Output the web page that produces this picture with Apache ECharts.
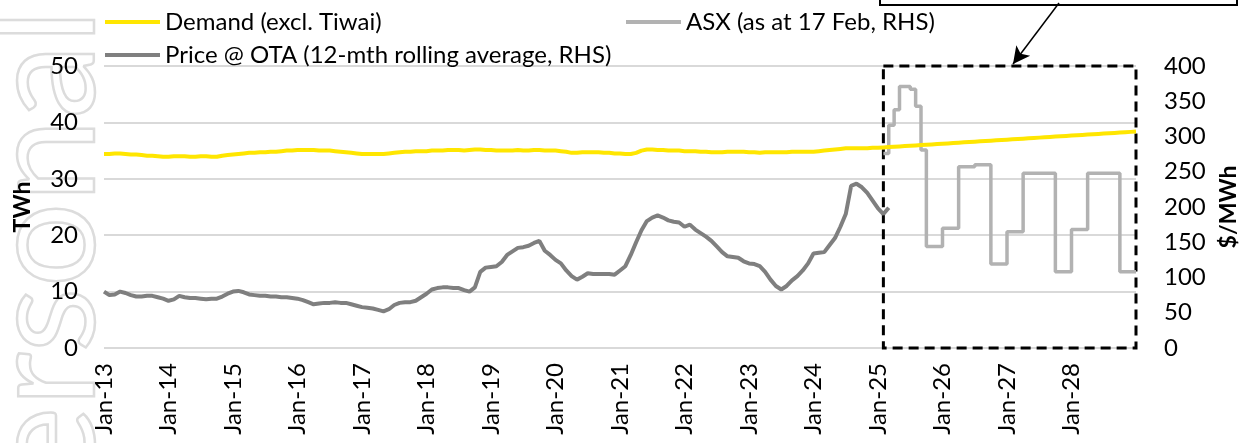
<!DOCTYPE html>
<html>
<head>
<meta charset="utf-8">
<script src="https://cdn.jsdelivr.net/npm/echarts@6/dist/echarts.min.js"></script>
<style>
  html, body { margin: 0; padding: 0; background: #fff; }
  #myChart { width: 1241px; height: 443px; }
</style>
</head>
<body>
<div id="myChart"></div>
<script>
// months Jan-13 .. Jan-29
var monthNames = ['Jan','Feb','Mar','Apr','May','Jun','Jul','Aug','Sep','Oct','Nov','Dec']
var months = []
for (var y = 13; y <= 29; y++) {
  for (var m = 0; m < 12; m++) {
    if (y === 29 && m > 0) break
    months.push(monthNames[m] + '-' + y)
  }
}

// Demand (excl. Tiwai), TWh, monthly from Jan-13
var demand = [
  34.4, 34.4, 34.5, 34.5, 34.4, 34.3, 34.3, 34.2, 34.1, 34.1, 34.0, 33.9,
  33.9, 34.0, 34.0, 34.0, 33.9, 33.9, 34.0, 34.0, 33.9, 33.9, 34.1, 34.2,
  34.3, 34.4, 34.5, 34.6, 34.6, 34.7, 34.7, 34.8, 34.8, 34.9, 35.0, 35.0,
  35.1, 35.1, 35.1, 35.1, 35.0, 35.0, 35.0, 34.9, 34.8, 34.7, 34.6, 34.5,
  34.4, 34.4, 34.4, 34.4, 34.4, 34.5, 34.6, 34.7, 34.8, 34.8, 34.9, 34.9,
  34.9, 35.0, 35.0, 35.0, 35.1, 35.1, 35.1, 35.0, 35.1, 35.2, 35.2, 35.1,
  35.1, 35.0, 35.0, 35.0, 35.0, 35.1, 35.0, 35.0, 35.1, 35.1, 35.0, 35.0,
  35.0, 34.9, 34.8, 34.6, 34.6, 34.7, 34.7, 34.7, 34.7, 34.6, 34.6, 34.5,
  34.5, 34.4, 34.4, 34.6, 35.0, 35.2, 35.2, 35.1, 35.1, 35.0, 35.0, 35.0,
  34.9, 34.9, 34.9, 34.8, 34.8, 34.7, 34.7, 34.7, 34.8, 34.8, 34.8, 34.8,
  34.7, 34.7, 34.6, 34.7, 34.7, 34.7, 34.7, 34.7, 34.8, 34.8, 34.8, 34.8,
  34.8, 34.9, 35.0, 35.1, 35.2, 35.3, 35.4, 35.4, 35.4, 35.4, 35.4, 35.5,
  35.50, 35.56, 35.62, 35.68, 35.74, 35.80, 35.86, 35.92, 35.98, 36.04, 36.10, 36.16,
  36.22, 36.28, 36.34, 36.40, 36.46, 36.52, 36.58, 36.64, 36.70, 36.76, 36.82, 36.88,
  36.94, 37.00, 37.06, 37.12, 37.18, 37.24, 37.30, 37.36, 37.42, 37.48, 37.54, 37.60,
  37.66, 37.72, 37.78, 37.84, 37.90, 37.96, 38.02, 38.08, 38.14, 38.20, 38.26, 38.32,
  38.38
]

// Price @ OTA, 12-mth rolling average, $/MWh, monthly from Jan-13
var price = [
  80, 75, 76, 80, 78, 75, 73, 73, 74, 74, 72, 70,
  67, 69, 74, 72, 71, 71, 70, 69, 70, 70, 73, 77,
  80, 81, 79, 76, 75, 74, 74, 73, 73, 72, 72, 71,
  70, 68, 65, 62, 63, 64, 64, 65, 64, 64, 62, 60,
  58, 57, 56, 54, 52, 55, 61, 64, 65, 65, 67, 72,
  77, 83, 85, 86, 86, 85, 85, 82, 80, 86, 108, 114,
  115, 116, 122, 132, 137, 142, 143, 145, 149, 152, 138, 132,
  125, 120, 110, 102, 97, 101, 106, 105, 105, 105, 105, 104,
  110, 116, 132, 150, 167, 180, 185, 188, 185, 181, 179, 178,
  172, 175, 168, 163, 158, 152, 144, 136, 130, 129, 128, 123,
  120, 119, 116, 108, 97, 88, 83, 88, 96, 102, 110, 120,
  134, 135, 136, 146, 156, 172, 190, 230, 233, 228, 220, 209,
  198, 190, 199
]

// ASX futures (as at 17 Feb), $/MWh, monthly from Feb-25 to Jan-29
var asxStart = 'Feb-25'
var asx = [
  276, 316, 338, 371, 371, 367, 343, 281,
  144, 144, 144,
  170, 170, 170, 257, 257, 257, 260, 260, 260, 119, 119, 119,
  165, 165, 165, 248, 248, 248, 248, 248, 248, 108, 108, 108,
  168, 168, 168, 248, 248, 248, 248, 248, 248, 108, 108, 108,
  108
]

var FONT = 'Lato'
var asxOffset = months.indexOf(asxStart)
var asxData = asx.map(function (v, k) { return [months[asxOffset + k], v] })

var myChart = echarts.init(document.getElementById('myChart'))

var legendCommon = {
  icon: 'rect',
  itemWidth: 55,
  itemHeight: 4,
  textStyle: { fontFamily: FONT, fontSize: 24, color: '#000' }
}

myChart.setOption({
  animation: false,
  grid: { left: 104, right: 105, top: 66, bottom: 95, outerBoundsMode: 'none' },
  legend: [
    Object.assign({ left: 100, top: 5, data: ['Demand (excl. Tiwai)'] }, legendCommon),
    Object.assign({ left: 621, top: 5, data: ['ASX (as at 17 Feb, RHS)'] }, legendCommon),
    Object.assign({ left: 100, top: 38, data: ['Price @ OTA (12-mth rolling average, RHS)'] }, legendCommon)
  ],
  xAxis: {
    type: 'category',
    data: months,
    boundaryGap: false,
    axisLine: { show: false },
    axisTick: { show: false },
    axisLabel: {
      rotate: 90,
      margin: 15,
      fontFamily: FONT,
      fontSize: 24,
      color: '#000',
      interval: function (i) { return i % 12 === 0 && i < months.length - 1 }
    }
  },
  yAxis: [{
    type: 'value',
    min: 0, max: 50, interval: 10,
    name: 'TWh',
    nameLocation: 'middle',
    nameRotate: 90,
    nameGap: 70,
    nameTextStyle: { fontFamily: FONT, fontSize: 23, fontWeight: 'bold', color: '#000' },
    axisLine: { show: false },
    axisTick: { show: false },
    axisLabel: { margin: 26, fontFamily: FONT, fontSize: 24, color: '#000' },
    splitLine: { lineStyle: { color: '#d9d9d9', width: 2 } }
  }, {
    type: 'value',
    min: 0, max: 400, interval: 50,
    name: '$/MWh',
    nameLocation: 'middle',
    nameRotate: 90,
    nameGap: 81,
    nameTextStyle: { fontFamily: FONT, fontSize: 23, fontWeight: 'bold', color: '#000' },
    axisLine: { show: false },
    axisTick: { show: false },
    axisLabel: { margin: 28, fontFamily: FONT, fontSize: 24, color: '#000' },
    splitLine: { show: false }
  }],
  series: [{
    name: 'ASX (as at 17 Feb, RHS)',
    type: 'line',
    yAxisIndex: 1,
    step: 'end',
    data: asxData,
    symbol: 'none',
    color: '#b2b2b2',
    lineStyle: { width: 3.5, color: '#b2b2b2' },
    z: 2,
    markArea: {
      silent: true,
      itemStyle: { color: 'rgba(0,0,0,0)', borderColor: '#000', borderWidth: 3, borderType: [10, 6] },
      data: [[{ xAxis: asxStart, yAxis: 400 }, { xAxis: months[months.length - 1], yAxis: 0 }]]
    },
    markLine: {
      silent: true,
      symbol: ['none', 'arrow'],
      symbolSize: [13, 17],
      label: { show: false },
      lineStyle: { color: '#000', width: 1.5, type: 'solid' },
      data: [[{ x: 1059, y: 3 }, { x: 1013, y: 64 }]]
    }
  }, {
    name: 'Price @ OTA (12-mth rolling average, RHS)',
    type: 'line',
    yAxisIndex: 1,
    data: price,
    symbol: 'none',
    color: '#7f7f7f',
    lineStyle: { width: 4, color: '#7f7f7f' },
    z: 3
  }, {
    name: 'Demand (excl. Tiwai)',
    type: 'line',
    yAxisIndex: 0,
    data: demand,
    symbol: 'none',
    color: '#ffe600',
    lineStyle: { width: 4, color: '#ffe600' },
    z: 4
  }],
  graphic: [{
    type: 'rect',
    shape: { x: 880, y: -40, width: 357, height: 45 },
    style: { fill: 'none', stroke: '#000', lineWidth: 2 },
    z: 10
  }, {
    // watermark (outline only)
    type: 'text',
    x: 46,
    y: 570,
    rotation: Math.PI / 2,
    style: {
      text: 'personal',
      font: '150px Lato',
      fill: 'none',
      stroke: '#dcdcdc',
      lineWidth: 2.5,
      textAlign: 'left',
      textVerticalAlign: 'middle'
    },
    z: 0
  }]
})
</script>
</body>
</html>
